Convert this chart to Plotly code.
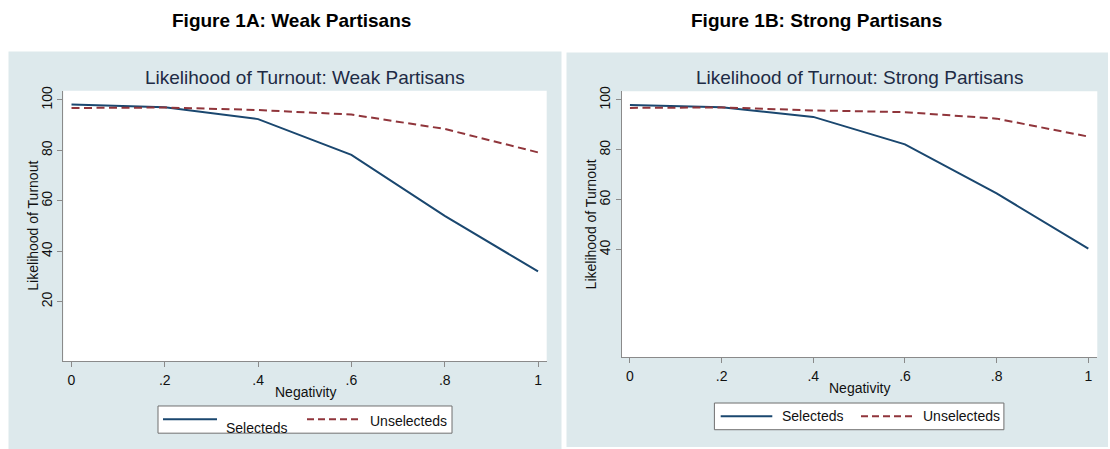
import plotly.graph_objects as go

# ---- data -------------------------------------------------------------
negativity = [0, 0.2, 0.4, 0.6, 0.8, 1.0]
x_tick_vals = [0, 0.2, 0.4, 0.6, 0.8, 1.0]
x_tick_text = ["0", ".2", ".4", ".6", ".8", "1"]

weak_selected = [98.2, 97.1, 92.4, 78.2, 54.0, 32.0]
weak_unselected = [96.8, 97.0, 96.0, 94.2, 88.5, 79.2]

strong_selected = [98.0, 97.1, 93.2, 82.2, 62.5, 40.4]
strong_unselected = [96.8, 97.0, 95.8, 95.1, 92.5, 85.3]

weak_y_ticks = [20, 40, 60, 80, 100]
strong_y_ticks = [40, 60, 80, 100]

series_names = ["Selecteds", "Unselecteds"]
panel_titles = ["Likelihood of Turnout: Weak Partisans",
                "Likelihood of Turnout: Strong Partisans"]
figure_headings = ["Figure 1A: Weak Partisans", "Figure 1B: Strong Partisans"]
x_title = "Negativity"
y_title = "Likelihood of Turnout"

# ---- styling ----------------------------------------------------------
W, H = 1110, 449
FONT = "Liberation Sans, Arial, sans-serif"
NAVY = "#1a476f"
MAROON = "#90353b"
PANEL_BG = "#dde9ec"
AXIS_GRAY = "#8a8a8a"
TITLE_COLOR = "#1e2b45"
DASH = "8px,4.5px"


def px(x):
    return x / W


def py(y):
    return 1 - y / H


fig = go.Figure()

# plot-area geometry in pixels: (left, top, right, bottom)
plots = [(63.3, 86.7, 546.7, 360.0), (621.7, 87.3, 1097.3, 356.0)]
panels = [(8.5, 47.0, 561.5, 449.0), (566.5, 48.0, 1108.0, 447.0)]
x_ranges = [[-0.0176, 1.0186], [-0.018, 1.0196]]
y_ranges = [[-3.53, 103.65], [-3.1, 103.45]]
y_ticks = [weak_y_ticks, strong_y_ticks]
data = [(weak_selected, weak_unselected), (strong_selected, strong_unselected)]

shapes = []
annotations = []

for i, ((l, t, r, b), (pl, pt, pr, pb)) in enumerate(zip(plots, panels)):
    sfx = "" if i == 0 else str(i + 1)
    xa, ya = "x" + sfx, "y" + sfx
    sel, unsel = data[i]
    fig.add_trace(go.Scatter(x=negativity, y=sel, mode="lines", name=series_names[0],
                             line=dict(color=NAVY, width=2), xaxis=xa, yaxis=ya,
                             showlegend=False, hoverinfo="skip"))
    fig.add_trace(go.Scatter(x=negativity, y=unsel, mode="lines", name=series_names[1],
                             line=dict(color=MAROON, width=2, dash=DASH), xaxis=xa, yaxis=ya,
                             showlegend=False, hoverinfo="skip"))

    axis_common = dict(showline=True, linecolor=AXIS_GRAY, linewidth=1,
                       ticks="outside", ticklen=5, tickwidth=1, tickcolor=AXIS_GRAY,
                       showgrid=False, zeroline=False,
                       tickfont=dict(family=FONT, size=14, color="#111111"))
    fig.update_layout(**{
        "xaxis" + sfx: dict(domain=[px(l), px(r)], range=x_ranges[i], anchor=ya,
                            tickmode="array", tickvals=x_tick_vals, ticktext=x_tick_text,
                            ticklabelstandoff=1, **axis_common),
        "yaxis" + sfx: dict(domain=[py(b), py(t)], range=y_ranges[i], anchor=xa,
                            tickmode="array", tickvals=y_ticks[i],
                            ticktext=[str(v) for v in y_ticks[i]],
                            tickangle=-90, ticklabelstandoff=0, **axis_common),
    })

    # panel background and white plot region
    shapes.append(dict(type="rect", xref="paper", yref="paper", layer="below",
                       x0=px(pl), x1=px(pr), y0=py(pb), y1=py(pt),
                       fillcolor=PANEL_BG, line=dict(width=0)))
    shapes.append(dict(type="rect", xref="paper", yref="paper", layer="below",
                       x0=px(l), x1=px(r), y0=py(b), y1=py(t),
                       fillcolor="white", line=dict(width=0)))

    cx = (l + r) / 2
    cy = (t + b) / 2
    annotations.append(dict(text=panel_titles[i], x=px(cx), y=py(73), xref="paper", yref="paper",
                            showarrow=False, xanchor="center", yanchor="middle",
                            font=dict(family=FONT, size=19, color=TITLE_COLOR)))
    annotations.append(dict(text=x_title, x=px(cx), y=py(b + 31), xref="paper", yref="paper",
                            showarrow=False, xanchor="center", yanchor="middle",
                            font=dict(family=FONT, size=14, color="#111111")))
    annotations.append(dict(text=y_title, x=px(l - 30.5), y=py(cy), xref="paper", yref="paper",
                            showarrow=False, xanchor="center", yanchor="middle", textangle=-90,
                            font=dict(family=FONT, size=14, color="#111111")))

# figure headings above each panel
for text, cx in zip(figure_headings, [291, 816]):
    annotations.append(dict(text="<b>" + text + "</b>", x=px(cx), y=py(16),
                            xref="paper", yref="paper", showarrow=False,
                            xanchor="center", yanchor="middle",
                            font=dict(family=FONT, size=19, color="#000000")))

# legends drawn below each panel: box, sample lines and labels
legends = [
    dict(box=(158, 405.5, 452, 433), line_y=419, sel_line=(163, 217), sel_text=(224, 428),
         un_line=(307, 360.7), un_text=(368, 420.4)),
    dict(box=(714.4, 402.5, 1003.9, 429.5), line_y=416, sel_line=(720.7, 772.3), sel_text=(780, 416),
         un_line=(861, 912.6), un_text=(920.7, 416)),
]
for lg in legends:
    x0, y0, x1, y1 = lg["box"]
    shapes.append(dict(type="rect", xref="paper", yref="paper", layer="below",
                       x0=px(x0), x1=px(x1), y0=py(y1), y1=py(y0),
                       fillcolor="white", line=dict(color="#6f6f6f", width=1)))
    shapes.append(dict(type="line", xref="paper", yref="paper", layer="below",
                       x0=px(lg["sel_line"][0]), x1=px(lg["sel_line"][1]),
                       y0=py(lg["line_y"]), y1=py(lg["line_y"]),
                       line=dict(color=NAVY, width=2)))
    shapes.append(dict(type="line", xref="paper", yref="paper", layer="below",
                       x0=px(lg["un_line"][0]), x1=px(lg["un_line"][1]),
                       y0=py(lg["line_y"]), y1=py(lg["line_y"]),
                       line=dict(color=MAROON, width=2, dash="7px,4px")))
    for name, (tx, ty) in zip(series_names, [lg["sel_text"], lg["un_text"]]):
        annotations.append(dict(text=name, x=px(tx), y=py(ty), xref="paper", yref="paper",
                                showarrow=False, xanchor="left", yanchor="middle",
                                font=dict(family=FONT, size=14, color="#111111")))

fig.update_layout(
    width=W, height=H, autosize=False,
    margin=dict(l=0, r=0, t=0, b=0),
    paper_bgcolor="white", plot_bgcolor="rgba(0,0,0,0)",
    shapes=shapes, annotations=annotations,
    font=dict(family=FONT),
)

fig.write_html("out.html")
